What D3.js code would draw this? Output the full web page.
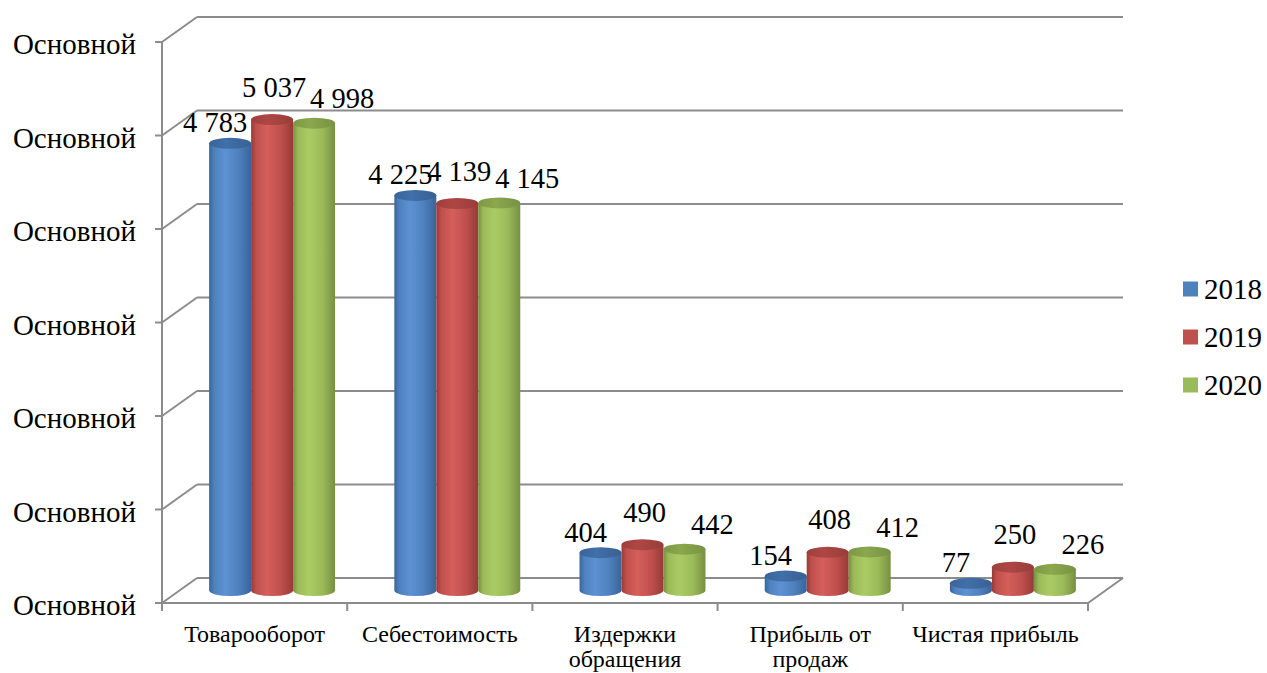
<!DOCTYPE html>
<html>
<head>
<meta charset="utf-8">
<script src="https://cdn.jsdelivr.net/npm/d3@7"></script>
<style>
  html, body { margin: 0; padding: 0; background: #fff; }
  svg { display: block; }
</style>
</head>
<body>
<svg id="chart" width="1267" height="673"></svg>
<script>
// ---- data ----
const categories = ["Товарооборот", "Себестоимость", "Издержки обращения", "Прибыль от продаж", "Чистая прибыль"];
const seriesNames = ["2018", "2019", "2020"];
const values2018 = [4783, 4225, 404, 154, 77];
const values2019 = [5037, 4139, 490, 408, 250];
const values2020 = [4998, 4145, 442, 412, 226];
const yTickValues = [0, 1000, 2000, 3000, 4000, 5000, 6000];
const yTickLabels = ["Основной", "Основной", "Основной", "Основной", "Основной", "Основной", "Основной"];
const seriesValues = [values2018, values2019, values2020];

// ---- styles ----
const FONT = "Liberation Serif";
const palette = [
  { base: "#4F81BD", light: "#5D91D3", dark: "#39649B", top: "#416FA9" },
  { base: "#C0504D", light: "#D45F5B", dark: "#983A37", top: "#AE4744" },
  { base: "#9BBB59", light: "#AACB64", dark: "#769040", top: "#8AA84D" }
];
const gridColor = "#8C8C8C";

const svg = d3.select("#chart");
const defs = svg.append("defs");

// 3D geometry
const depthDx = 35, depthDy = 25;
const frontLeft = 162, frontRight = 1088;

const y = d3.scaleLinear().domain([0, 6000]).range([578, 17]); // back wall
const x = d3.scaleBand().domain(categories).range([frontLeft, frontRight]).paddingInner(0).paddingOuter(0);
const groupW = x.bandwidth() * 0.68;
const xs = d3.scaleBand().domain(seriesNames).range([0, groupW]).padding(0);
const rx = xs.bandwidth() / 2, ry = 5.5;

// gradients
palette.forEach((p, i) => {
  const g = defs.append("linearGradient").attr("id", "body" + i)
    .attr("x1", "0").attr("x2", "1").attr("y1", "0").attr("y2", "0");
  [[0, p.dark], [0.12, p.base], [0.38, p.light], [0.7, p.base], [1, p.dark]].forEach(s =>
    g.append("stop").attr("offset", s[0]).attr("stop-color", s[1]));
  const t = defs.append("linearGradient").attr("id", "top" + i)
    .attr("x1", "0").attr("x2", "1").attr("y1", "0").attr("y2", "0");
  [[0, d3.color(p.top).darker(0.3)], [0.4, p.top], [1, d3.color(p.top).darker(0.4)]].forEach(s =>
    t.append("stop").attr("offset", s[0]).attr("stop-color", s[1]));
});

// ---- walls / grid ----
const grid = svg.append("g").attr("fill", "none").attr("stroke", gridColor).attr("stroke-width", 2);
const backL = frontLeft + depthDx, backR = frontRight + depthDx;
yTickValues.forEach(v => {
  const yb = y(v);
  grid.append("line").attr("x1", backL).attr("x2", backR).attr("y1", yb).attr("y2", yb);
  grid.append("line").attr("x1", frontLeft).attr("y1", yb + depthDy).attr("x2", backL).attr("y2", yb);
  grid.append("line").attr("x1", frontLeft - 7).attr("x2", frontLeft).attr("y1", yb + depthDy).attr("y2", yb + depthDy);
});
grid.append("line").attr("x1", frontLeft).attr("x2", frontLeft)
  .attr("y1", y(6000) + depthDy).attr("y2", y(0) + depthDy);
grid.append("path").attr("d",
  `M${frontLeft},${y(0) + depthDy} L${frontRight},${y(0) + depthDy} L${backR},${y(0)}`);
const bounds = categories.map(c => x(c)).concat([frontRight]);
bounds.forEach(bx => {
  grid.append("line").attr("x1", bx).attr("x2", bx)
    .attr("y1", y(0) + depthDy).attr("y2", y(0) + depthDy + 8);
});

// ---- y labels ----
svg.append("g").selectAll("text").data(yTickValues).join("text")
  .attr("font-family", FONT)
  .attr("x", 136).attr("y", v => y(v) + depthDy + 12)
  .attr("text-anchor", "end")
  .attr("font-size", 29)
  .text((v, i) => yTickLabels[i]);

// ---- category labels with wrapping ----
const catG = svg.append("g");
categories.forEach(c => {
  const cxm = x(c) + x.bandwidth() / 2;
  const t = catG.append("text")
    .attr("font-family", FONT)
    .attr("x", cxm).attr("y", 642)
    .attr("text-anchor", "middle")
    .attr("font-size", 24);
  const words = c.split(" ");
  let line = [], tspan = t.append("tspan").attr("x", cxm).attr("dy", 0);
  words.forEach(w => {
    line.push(w);
    tspan.text(line.join(" "));
    if (tspan.node().getComputedTextLength() > x.bandwidth() - 8 && line.length > 1) {
      line.pop();
      tspan.text(line.join(" "));
      line = [w];
      tspan = t.append("tspan").attr("x", cxm).attr("dy", 25).text(w);
    }
  });
});

// ---- cylinders ----
const bars = [];
seriesNames.forEach((s, si) => {
  categories.forEach((c, ci) => {
    bars.push({ s, si, c, v: seriesValues[si][ci] });
  });
});
const cx = d => x(d.c) + (x.bandwidth() - groupW) / 2 + xs(d.s) + rx + depthDx / 2;
const baseY = y(0) + depthDy / 2;
const topY = d => y(d.v) + depthDy / 2;

const barG = svg.append("g");
categories.forEach(c => {
  seriesNames.forEach((s, si) => {
    const d = bars.find(b => b.c === c && b.s === s);
    const X = cx(d), T = topY(d), B = baseY;
    barG.append("path")
      .attr("d", `M${X - rx},${T} L${X - rx},${B} A${rx},${ry} 0 0 0 ${X + rx},${B} L${X + rx},${T} Z`)
      .attr("fill", `url(#body${si})`);
    barG.append("ellipse")
      .attr("cx", X).attr("cy", T).attr("rx", rx).attr("ry", ry)
      .attr("fill", `url(#top${si})`);
  });
});

// ---- data labels ----
const labelDx = [-15, 2, 28];
const labelDy = [-11, -23, -15];
const fmt = v => d3.format(",")(v).replace(/,/g, " ");
svg.append("g").selectAll("text").data(bars).join("text")
  .attr("font-family", FONT)
  .attr("x", d => cx(d) + labelDx[d.si])
  .attr("y", d => topY(d) + labelDy[d.si])
  .attr("text-anchor", "middle")
  .attr("font-size", 28.5)
  .text(d => fmt(d.v));

// ---- legend ----
const leg = svg.append("g").attr("transform", "translate(1183,289)");
seriesNames.forEach((s, i) => {
  const g = leg.append("g").attr("transform", `translate(0,${i * 48})`);
  g.append("rect").attr("x", 0).attr("y", -7.5).attr("width", 15).attr("height", 15).attr("fill", palette[i].base);
  g.append("text").attr("font-family", FONT).attr("x", 21).attr("y", 10)
    .attr("font-size", 29).text(s);
});
</script>
</body>
</html>
